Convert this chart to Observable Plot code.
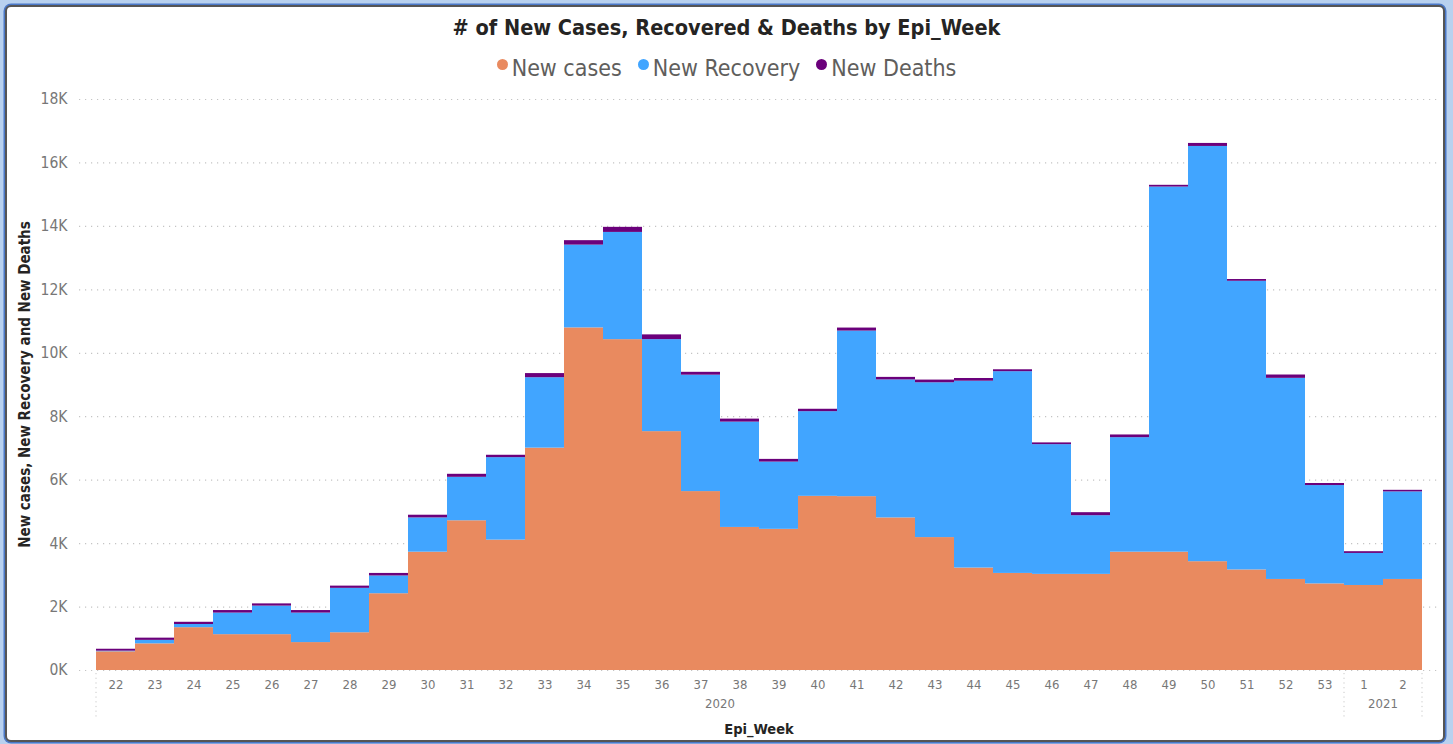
<!DOCTYPE html>
<html>
<head>
<meta charset="utf-8">
<script src="https://cdn.jsdelivr.net/npm/d3@7"></script>
<script src="https://cdn.jsdelivr.net/npm/@observablehq/plot@0.6"></script>
<style>
  html, body { margin: 0; padding: 0; background: #b8d1ef; }
  #wrap { position: relative; width: 1453px; height: 744px; overflow: hidden; }
  #card { position: absolute; left: 5px; top: 5px; width: 1436px; height: 733px;
          background: #fff; border: 2px solid #555; border-radius: 6px;
          box-shadow: 0 0 0 1.5px #4a78c8; }
  #title { position: absolute; left: 0; top: 15px; width: 1453px; text-align: center;
           font-family: "DejaVu Sans Condensed", "Liberation Sans Narrow", Roboto, sans-serif;
           font-stretch: condensed; font-weight: bold; font-size: 21.5px; color: #252423; }
  #legend { position: absolute; left: 0; top: 55px; width: 1453px; display: flex; justify-content: center;
            gap: 16px; font-family: "DejaVu Sans Condensed", "Liberation Sans Narrow", Roboto, sans-serif;
            font-stretch: condensed; font-size: 23px; color: #605e5c; }
  #legend .item { display: flex; align-items: center; gap: 4px; }
  #legend .dot { width: 11px; height: 11px; border-radius: 50%; display: inline-block; margin-top: -7px; }
  #chart { position: absolute; left: 0; top: 0; }
</style>
</head>
<body>
<div id="wrap">
  <div id="card"></div>
  <div id="title"># of New Cases, Recovered &amp; Deaths by Epi_Week</div>
  <div id="legend"></div>
  <div id="chart"></div>
</div>
<script>
// ---- data ----
const weeks = ["22","23","24","25","26","27","28","29","30","31","32","33","34","35","36","37","38","39","40","41","42","43","44","45","46","47","48","49","50","51","52","53","1","2"];
const years = [2020,2020,2020,2020,2020,2020,2020,2020,2020,2020,2020,2020,2020,2020,2020,2020,2020,2020,2020,2020,2020,2020,2020,2020,2020,2020,2020,2020,2020,2020,2020,2020,2021,2021];
const newCases    = [590,840,1350,1130,1130,880,1190,2420,3730,4720,4110,7010,10800,10430,7530,5640,4510,4450,5490,5480,4810,4190,3230,3060,3030,3030,3730,3730,3430,3170,2870,2730,2680,2870];
const newRecovery = [20,110,100,680,900,930,1400,560,1080,1370,2600,2220,2610,3380,2900,3670,3320,2120,2670,5220,4350,4880,5890,6360,4090,1850,3610,11510,13090,9100,6340,3100,1010,2760];
const newDeaths   = [60,70,70,80,70,80,70,80,85,95,75,130,140,160,150,90,95,85,75,95,80,85,85,60,55,95,85,55,95,55,105,65,55,50];
const seriesNames = ["New cases","New Recovery","New Deaths"];
const seriesColors = ["#e98a5f","#41a5ff","#6b007b"];
const yTicks = [0,2000,4000,6000,8000,10000,12000,14000,16000,18000];
const yearLabels = [2020, 2021];
const xTitle = "Epi_Week";
const yTitle = "New cases, New Recovery and New Deaths";

const FONT = '"DejaVu Sans Condensed", "Liberation Sans Narrow", Roboto, sans-serif';

// legend
const legend = document.getElementById("legend");
seriesNames.forEach((s, i) => {
  const it = document.createElement("span");
  it.className = "item";
  it.innerHTML = `<span class="dot" style="background:${seriesColors[i]}"></span><span>${s}</span>`;
  legend.appendChild(it);
});

// long table
const keys = weeks.map((w, i) => years[i] + "-" + w);
const weekOf = Object.fromEntries(keys.map((k, i) => [k, weeks[i]]));
const rows = [];
const seriesVals = [newCases, newRecovery, newDeaths];
keys.forEach((k, i) => {
  seriesNames.forEach((s, j) => rows.push({key: k, series: s, value: seriesVals[j][i]}));
});

const plot = Plot.plot({
  width: 1453, height: 744,
  marginLeft: 95, marginRight: 30, marginTop: 99, marginBottom: 74,
  style: {background: "transparent", fontFamily: FONT, color: "#777"},
  x: {type: "band", domain: keys, padding: 0},
  y: {domain: [0, 18000]},
  color: {domain: seriesNames, range: seriesColors},
  marks: [
    Plot.ruleY(yTicks, {stroke: "#c4c4c4", strokeWidth: 1.2, strokeDasharray: "1.2,4.8", insetLeft: -16, insetRight: -17}),
    Plot.barY(rows, {x: "key", y: "value", fill: "series", order: seriesNames}),
    Plot.axisY(yTicks, {tickSize: 0, tickPadding: 28, fontSize: 15.5, tickFormat: d => (d / 1000) + "K", label: null}),
    Plot.axisX({tickSize: 0, tickPadding: 9, fontSize: 13, tickFormat: k => weekOf[k], label: null})
  ]
});
document.getElementById("chart").appendChild(plot);

// hierarchy (year) labels, separators and axis titles from the x scale
const xs = plot.scale("x");
const bw = xs.bandwidth;
const svg = d3.select(plot);
const x0 = xs.range[0], x1 = xs.range[1];
const g = svg.append("g").attr("font-family", FONT);
const bounds = [];
yearLabels.forEach(y => {
  const ks = keys.filter((k, i) => years[i] === y);
  const a = xs.apply(ks[0]), b = xs.apply(ks[ks.length - 1]) + bw;
  bounds.push(a, b);
  g.append("text").attr("x", (a + b) / 2).attr("y", 708).attr("text-anchor", "middle")
    .attr("font-size", 13).attr("fill", "#777").text(y);
});
[...new Set(bounds.map(v => Math.round(v)))].forEach(v => {
  g.append("line").attr("x1", v).attr("x2", v).attr("y1", 673).attr("y2", 717)
    .attr("stroke", "#c8c8c8").attr("stroke-dasharray", "1.2,3.5");
});
g.append("text").attr("x", (x0 + x1) / 2).attr("y", 734).attr("text-anchor", "middle")
  .attr("font-size", 14.5).attr("font-weight", "bold").attr("fill", "#252423").text(xTitle);
g.append("text").attr("transform", `translate(30,${(99 + 670) / 2}) rotate(-90)`).attr("text-anchor", "middle")
  .attr("font-size", 15).attr("font-weight", "600").attr("fill", "#252423").text(yTitle);
</script>
</body>
</html>
